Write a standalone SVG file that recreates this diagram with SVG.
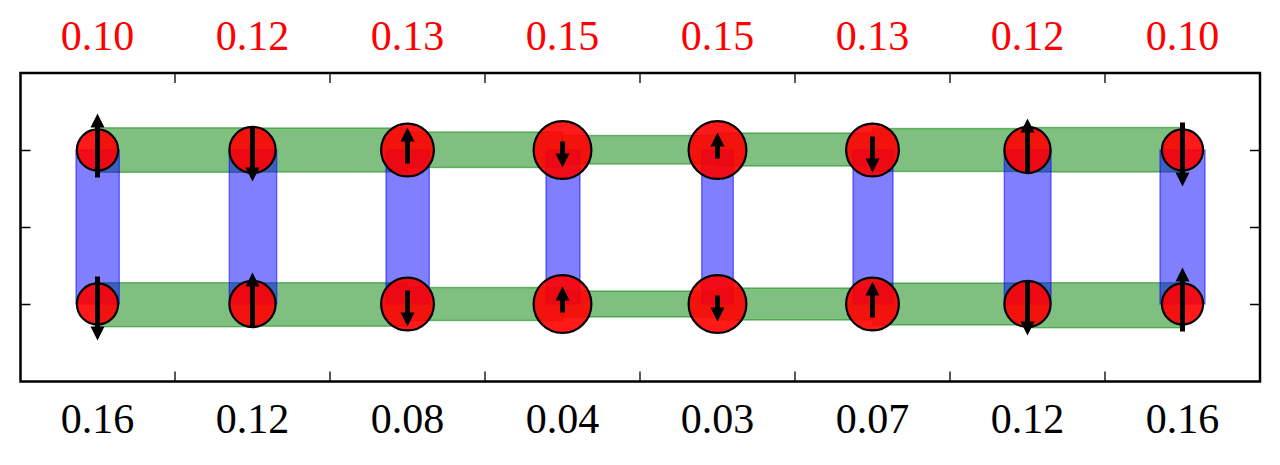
<svg xmlns="http://www.w3.org/2000/svg" width="1280" height="465" viewBox="0 0 1280 465">
<style>
.g{fill:#008000;fill-opacity:0.5;stroke:#008000;stroke-opacity:0.5;stroke-width:1.4}
.b{fill:#0000ff;fill-opacity:0.5;stroke:#0000ff;stroke-opacity:0.5;stroke-width:1.4}
.c{fill:#ff0000;fill-opacity:0.9;stroke:#000;stroke-width:2.2}
.a{fill:#000}
.t{stroke:#000;stroke-width:1.3}
.lr{font-family:"Liberation Serif",serif;font-size:42px;fill:#ff0000;text-anchor:middle}
.lb{font-family:"Liberation Serif",serif;font-size:42px;fill:#000;text-anchor:middle}
</style>
<rect width="1280" height="465" fill="#fff"/>
<g id="connectors">
<rect class="g" x="97.5" y="127.8" width="155" height="44.5"/>
<rect class="g" x="252.5" y="128" width="155" height="44"/>
<rect class="g" x="407.5" y="132" width="155" height="35.5"/>
<rect class="g" x="562.5" y="135.5" width="155" height="28.5"/>
<rect class="g" x="717.5" y="133" width="155" height="33"/>
<rect class="g" x="872.5" y="128.5" width="155" height="43"/>
<rect class="g" x="1027.5" y="127.5" width="155" height="44.5"/>
<rect class="g" x="97.5" y="282.7" width="155" height="44"/>
<rect class="g" x="252.5" y="282.7" width="155" height="43.5"/>
<rect class="g" x="407.5" y="287.5" width="155" height="33"/>
<rect class="g" x="562.5" y="291" width="155" height="26"/>
<rect class="g" x="717.5" y="288" width="155" height="32"/>
<rect class="g" x="872.5" y="283" width="155" height="42"/>
<rect class="g" x="1027.5" y="282.7" width="155" height="45"/>
<rect class="b" x="76" y="150" width="43.3" height="154"/>
<rect class="b" x="229.3" y="150" width="47.4" height="154"/>
<rect class="b" x="386" y="150" width="43.3" height="154"/>
<rect class="b" x="546" y="150" width="34" height="154"/>
<rect class="b" x="701.7" y="150" width="31.6" height="154"/>
<rect class="b" x="853" y="150" width="40" height="154"/>
<rect class="b" x="1004.3" y="150" width="46.7" height="154"/>
<rect class="b" x="1160" y="150" width="45" height="154"/>
</g>
<g id="n0t"><circle class="c" cx="97.5" cy="150" r="20.6"/><path class="a" d="M95,177.5V127.5H90.5L97.5,113.5L104.5,127.5H100V177.5Z"/></g>
<g id="n1t"><circle class="c" cx="252.5" cy="150" r="23.1"/><path class="a" d="M250,127.5V167.5H245.5L252.5,181.5L259.5,167.5H255V127.5Z"/></g>
<g id="n2t"><circle class="c" cx="407.5" cy="150" r="26.4"/><path class="a" d="M405,163.5V141.5H400.5L407.5,127.5L414.5,141.5H410V163.5Z"/></g>
<g id="n3t"><circle class="c" cx="562.5" cy="150" r="28.9"/><path class="a" d="M560,141.5V153.5H555.5L562.5,167.5L569.5,153.5H565V141.5Z"/></g>
<g id="n4t"><circle class="c" cx="717.5" cy="150" r="28.9"/><path class="a" d="M715,158.5V146.5H710.5L717.5,132.5L724.5,146.5H720V158.5Z"/></g>
<g id="n5t"><circle class="c" cx="872.5" cy="150" r="26.4"/><path class="a" d="M870,136.5V158.5H865.5L872.5,172.5L879.5,158.5H875V136.5Z"/></g>
<g id="n6t"><circle class="c" cx="1027.5" cy="150" r="23.1"/><path class="a" d="M1025,172.5V132.5H1020.5L1027.5,118.5L1034.5,132.5H1030V172.5Z"/></g>
<g id="n7t"><circle class="c" cx="1182.5" cy="150" r="20.6"/><path class="a" d="M1180,122.5V172.5H1175.5L1182.5,186.5L1189.5,172.5H1185V122.5Z"/></g>
<g id="n0b"><circle class="c" cx="97.5" cy="304" r="20.6"/><path class="a" d="M95,276.5V326.5H90.5L97.5,340.5L104.5,326.5H100V276.5Z"/></g>
<g id="n1b"><circle class="c" cx="252.5" cy="304" r="23.1"/><path class="a" d="M250,326.5V286.5H245.5L252.5,272.5L259.5,286.5H255V326.5Z"/></g>
<g id="n2b"><circle class="c" cx="407.5" cy="304" r="26.4"/><path class="a" d="M405,290.5V312.5H400.5L407.5,326.5L414.5,312.5H410V290.5Z"/></g>
<g id="n3b"><circle class="c" cx="562.5" cy="304" r="28.9"/><path class="a" d="M560,312.5V300.5H555.5L562.5,286.5L569.5,300.5H565V312.5Z"/></g>
<g id="n4b"><circle class="c" cx="717.5" cy="304" r="28.9"/><path class="a" d="M715,295.5V307.5H710.5L717.5,321.5L724.5,307.5H720V295.5Z"/></g>
<g id="n5b"><circle class="c" cx="872.5" cy="304" r="26.4"/><path class="a" d="M870,317.5V295.5H865.5L872.5,281.5L879.5,295.5H875V317.5Z"/></g>
<g id="n6b"><circle class="c" cx="1027.5" cy="304" r="23.1"/><path class="a" d="M1025,281.5V321.5H1020.5L1027.5,335.5L1034.5,321.5H1030V281.5Z"/></g>
<g id="n7b"><circle class="c" cx="1182.5" cy="304" r="20.6"/><path class="a" d="M1180,331.5V281.5H1175.5L1182.5,267.5L1189.5,281.5H1185V331.5Z"/></g>
<g id="axes">
<rect x="20.5" y="73" width="1239.5" height="308.5" fill="none" stroke="#000" stroke-width="2.5"/>
<path class="t" d="M175,73v10M330,73v10M485,73v10M640,73v10M795,73v10M950,73v10M1105,73v10M175,381.5v-10M330,381.5v-10M485,381.5v-10M640,381.5v-10M795,381.5v-10M950,381.5v-10M1105,381.5v-10M20.5,150.5h10M20.5,227.5h10M20.5,304.5h10M1260,150.5h-10M1260,227.5h-10M1260,304.5h-10"/>
</g>
<g id="labels">
<text class="lr" x="97.5" y="50">0.10</text>
<text class="lr" x="252.5" y="50">0.12</text>
<text class="lr" x="407.5" y="50">0.13</text>
<text class="lr" x="562.5" y="50">0.15</text>
<text class="lr" x="717.5" y="50">0.15</text>
<text class="lr" x="872.5" y="50">0.13</text>
<text class="lr" x="1027.5" y="50">0.12</text>
<text class="lr" x="1182.5" y="50">0.10</text>
<text class="lb" x="97.5" y="433">0.16</text>
<text class="lb" x="252.5" y="433">0.12</text>
<text class="lb" x="407.5" y="433">0.08</text>
<text class="lb" x="562.5" y="433">0.04</text>
<text class="lb" x="717.5" y="433">0.03</text>
<text class="lb" x="872.5" y="433">0.07</text>
<text class="lb" x="1027.5" y="433">0.12</text>
<text class="lb" x="1182.5" y="433">0.16</text>
</g>
</svg>
